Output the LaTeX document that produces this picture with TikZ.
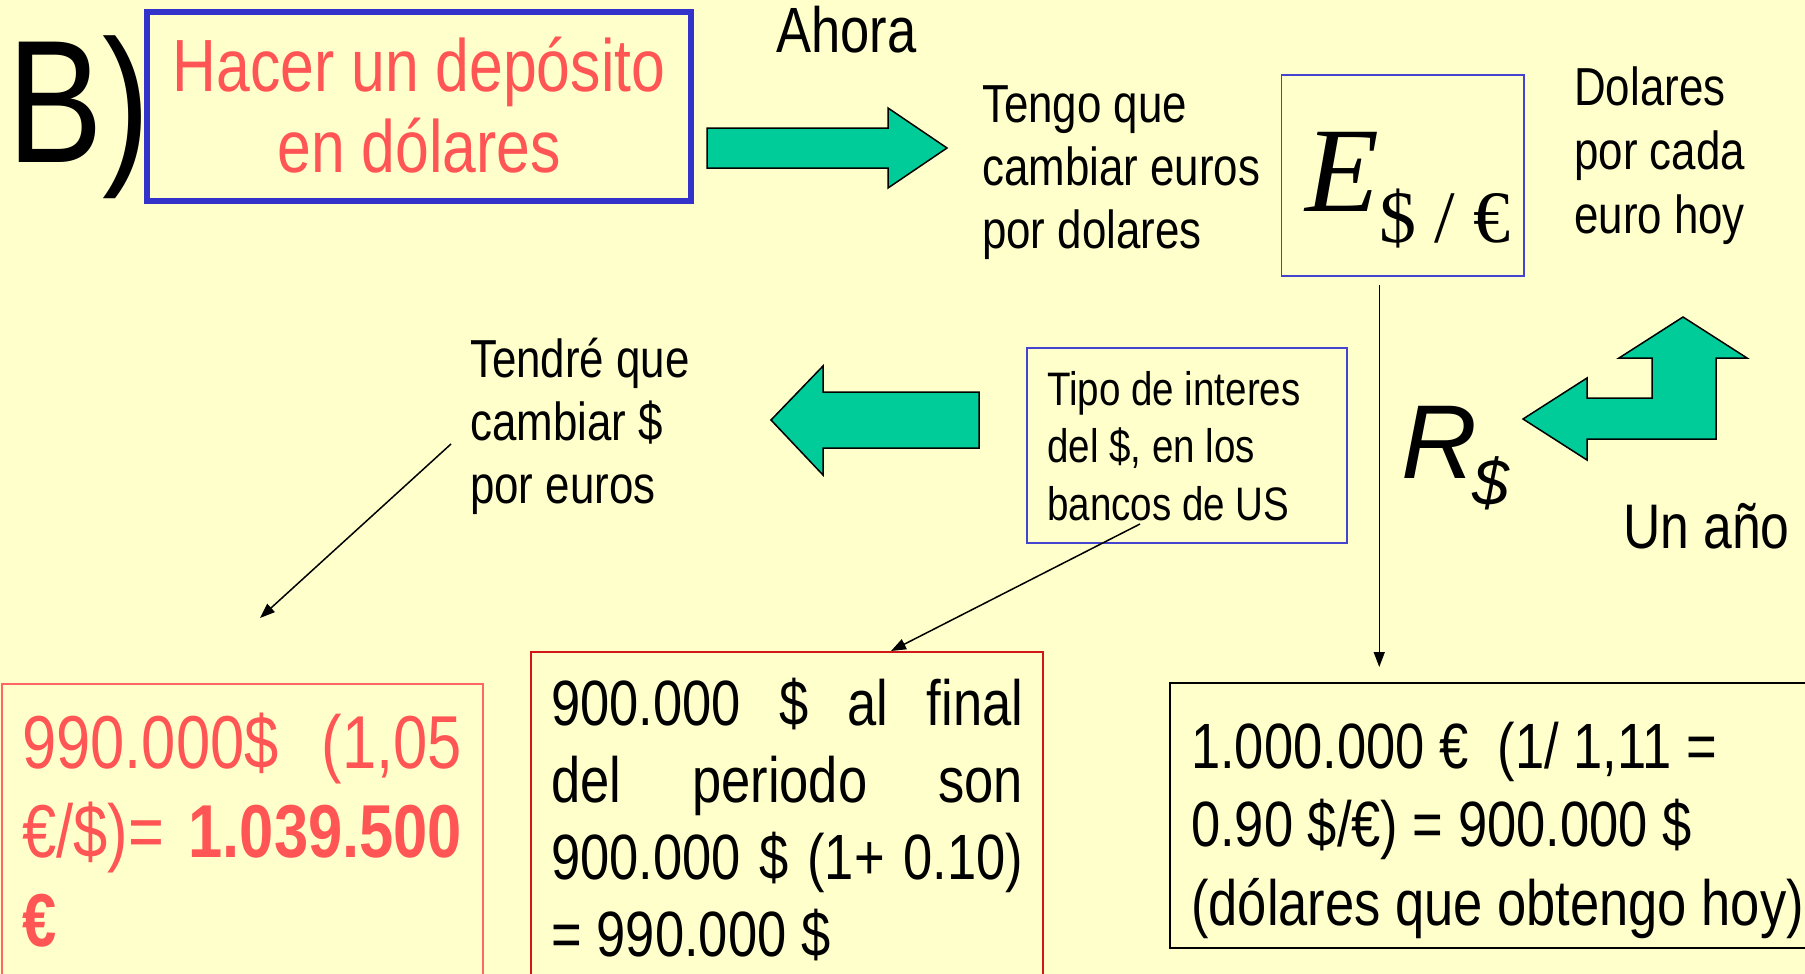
\documentclass[tikz,border=0pt]{standalone}
\usepackage{fontspec}
\setmainfont{Liberation Sans}[FakeStretch=0.82]
\newfontfamily\seriff{Liberation Serif}
\newfontfamily\plainsans{Liberation Sans}
\usetikzlibrary{arrows.meta,calc}
\definecolor{bgyellow}{HTML}{FFFFCC}
\definecolor{redtext}{HTML}{FF5555}
\definecolor{boxblue}{HTML}{3333CC}
\definecolor{thinblue}{HTML}{4444D0}
\definecolor{lightred}{HTML}{FF6666}
\definecolor{darkred}{HTML}{D01818}
\definecolor{teal}{HTML}{00CC99}
\tikzset{
  txt/.style={anchor=base west, inner sep=0pt, align=left},
  frame/.style={draw, rectangle, inner sep=0pt},
  bigarrow/.style={fill=teal, draw=black, line width=1.5pt, line join=miter},
  conn/.style={draw=black, line width=1.5pt, -{Triangle[length=15pt,width=11pt]}},
}
\begin{document}
\begin{tikzpicture}[x=1pt,y=-1pt]
\useasboundingbox (0,0) rectangle (1805,974);
\fill[bgyellow] (0,0) rectangle (1805,974);

% title (multi-line nodes: base anchor = last line's baseline)
\node[txt, font=\fontsize{175}{175}\selectfont] (B) at (7,162) {B)};
\node[frame, draw=boxblue, line width=6pt, minimum width=544pt, minimum height=189pt] (dep) at (419,106.5) {};
\node[anchor=base, inner sep=0pt, align=center, text=redtext, font=\fontsize{74}{81}\selectfont] (deptext) at (419,172) {Hacer un depósito\\en dólares};

\node[txt, font=\fontsize{64}{64}\selectfont] (ahora) at (776,53) {Ahora};
\filldraw[bigarrow] (707,128) -- (888,128) -- (888,108) -- (947,148) -- (888,188) -- (888,168) -- (707,168) -- cycle;

\node[txt, font=\fontsize{53.5}{63}\selectfont] (tengo) at (982,248) {Tengo que\\cambiar euros\\por dolares};

% E box
\node[frame, draw=thinblue, line width=1.5pt, minimum width=242.5pt, minimum height=201pt] (ebox) at (1402.75,175.5) {};
\node[txt] (etext) at (1305,211) {{\seriff\itshape\fontsize{121}{121}\selectfont E}\raisebox{-31pt}{\seriff\fontsize{74}{74}\selectfont \$ / €}};

\node[txt, font=\fontsize{53.5}{64}\selectfont] (dolares) at (1574,233) {Dolares\\por cada\\euro hoy};

% middle row
\node[txt, font=\fontsize{53.5}{63}\selectfont] (tendre) at (470,503) {Tendré que\\cambiar \$\\por euros};
\filldraw[bigarrow] (979,392) -- (823,392) -- (823,366) -- (771,420) -- (823,475) -- (823,448) -- (979,448) -- cycle;

\node[frame, draw=thinblue, line width=1.5pt, minimum width=320pt, minimum height=195pt] (tipo) at (1187,445.5) {};
\node[txt, font=\fontsize{47}{57.5}\selectfont] (tipotext) at (1047,520) {Tipo de interes\\del \$, en los\\bancos de US};

\node[txt] (rtext) at (1401,478) {{\plainsans\itshape\fontsize{105}{105}\selectfont R}\kern-5pt\raisebox{-27pt}{\plainsans\itshape\fontsize{66}{66}\selectfont \$}};

\filldraw[bigarrow] (1523,419) -- (1587,378) -- (1587,398) -- (1652,398) -- (1652,358) -- (1619,358) -- (1683,317) -- (1747,358) -- (1716,358) -- (1716,439) -- (1587,439) -- (1587,460) -- cycle;

\node[txt, font=\fontsize{63}{63}\selectfont] (unano) at (1623,548) {Un año};

% bottom boxes
\node[frame, draw=lightred, line width=1.5pt, minimum width=481pt, minimum height=306pt] (lbox) at (242.5,837) {};
\node[txt, text width=440pt, text=redtext, font=\fontsize{75}{89}\selectfont] (ltext) at (22,768)
  {990.000\$\hfill(1,05\\€/\$)=\hfill\textbf{1.039.500}\\\textbf{€}};

\node[frame, draw=darkred, line width=2pt, minimum width=512pt, minimum height=338pt] (mbox) at (787,821) {};
\node[txt, text width=472pt, font=\fontsize{64}{77}\selectfont] (mtext) at (551,725)
  {900.000\hfill\$\hfill al\hfill final\\del\hfill periodo\hfill son\\900.000\hfill\$\hfill(1+\hfill 0.10)\\=\kern15pt 990.000\kern15pt\$};

\node[frame, draw=black, line width=2pt, minimum width=640pt, minimum height=265pt] (rbox) at (1490,815.5) {};
\node[txt, font=\fontsize{64}{78.5}\selectfont] (rtext2) at (1191,925)
  {1.000.000 €~ (1/ 1,11 =\\0.90 \$/€) = 900.000 \$\\(dólares que obtengo hoy)};

% connectors
\coordinate (vs) at ([xshift=-23.5pt,yshift=-8pt]ebox.south);
\draw[conn] (vs) -- (vs |- rbox.north) [shorten >=15pt];
\coordinate (ts) at (1140,524);
\coordinate (te) at ([xshift=104pt]mbox.north);
\draw[conn] (ts) -- (te);
\coordinate (ls) at (451,444);
\coordinate (le) at (260,618);
\draw[conn] (ls) -- (le);
\end{tikzpicture}
\end{document}
